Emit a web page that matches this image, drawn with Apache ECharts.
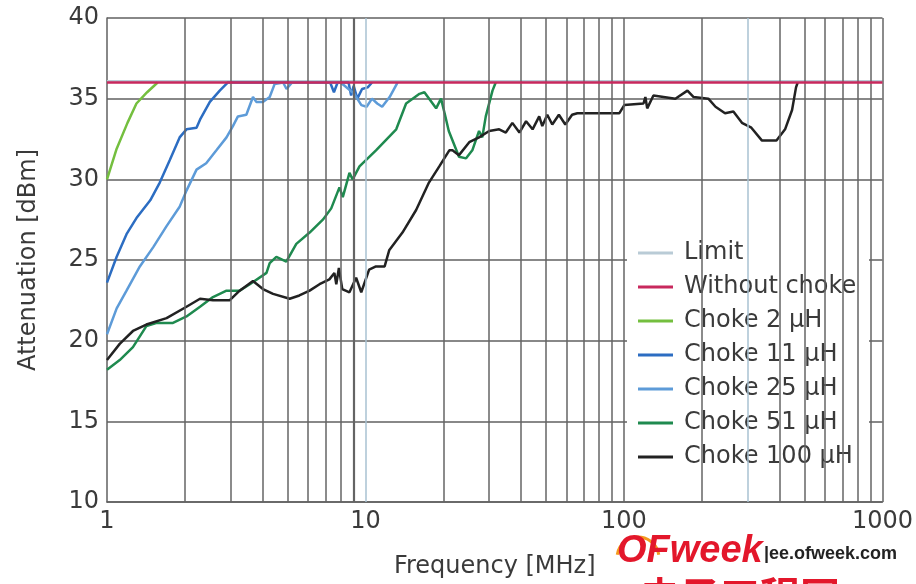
<!DOCTYPE html>
<html>
<head>
<meta charset="utf-8">
<script src="https://cdn.jsdelivr.net/npm/echarts@6/dist/echarts.min.js"></script>
<style>
  html, body { margin: 0; padding: 0; background: #fff; }
  #chart { width: 916px; height: 584px; }
</style>
</head>
<body>
<div id="chart"></div>
<script>
// frequency [MHz] / attenuation [dBm]
const limitFreq = [1, 1000];
const limitVal = [36.1, 36.1];

const noChokeFreq = [1, 1000];
const noChokeVal = [36, 36];

const choke2Freq = [1, 1.09, 1.2, 1.3, 1.43, 1.57];
const choke2Val = [30.0, 31.9, 33.5, 34.7, 35.4, 36.0];

const choke11Freq = [1, 1.09, 1.19, 1.3, 1.47, 1.6, 1.75, 1.91, 2.03, 2.22, 2.29, 2.5, 2.73, 2.93,
  7.3, 7.55, 7.8, 8.6, 8.8, 9.0, 9.3, 9.7, 10.2, 10.6];
const choke11Val = [23.6, 25.2, 26.6, 27.6, 28.7, 29.8, 31.2, 32.6, 33.1, 33.2, 33.7, 34.8, 35.5, 36.0,
  36.0, 35.4, 36.0, 36.0, 35.2, 35.8, 35.0, 35.6, 35.7, 36.0];

const choke25Freq = [1, 1.09, 1.19, 1.34, 1.51, 1.7, 1.91, 2.03, 2.22, 2.42, 2.65, 2.9, 3.07, 3.21, 3.46,
  3.67, 3.78, 4.01, 4.26, 4.45, 4.8, 4.95, 5.2, 8.0, 8.3, 9.05, 9.64, 10.1, 10.6, 11.1, 11.6, 12.4, 13.3];
const choke25Val = [20.4, 22.0, 23.1, 24.6, 25.8, 27.1, 28.3, 29.3, 30.6, 31.0, 31.8, 32.6, 33.3, 33.9, 34.0,
  35.1, 34.8, 34.8, 35.1, 35.9, 36.0, 35.6, 36.0, 36.0, 35.8, 35.3, 34.6, 34.5, 35.0, 34.7, 34.5, 35.1, 36.0];

const choke51Freq = [1, 1.12, 1.26, 1.42, 1.56, 1.8, 2.03, 2.29, 2.57, 2.9, 3.26, 3.57, 4.14, 4.26, 4.52,
  4.94, 5.4, 6.08, 6.84, 7.37, 7.93, 8.17, 8.67, 8.92, 9.48, 10.98, 13.15, 14.36, 16.18, 16.9, 18.76,
  19.6, 20.3, 21.0, 23.0, 24.5, 25.9, 27.5, 28.3, 29.2, 31.0, 31.9];
const choke51Val = [18.2, 18.8, 19.6, 20.9, 21.1, 21.1, 21.5, 22.1, 22.7, 23.1, 23.1, 23.5, 24.2, 24.8, 25.2,
  24.9, 26.0, 26.7, 27.5, 28.2, 29.5, 28.9, 30.4, 30.0, 30.8, 31.8, 33.1, 34.7, 35.3, 35.4, 34.4,
  35.0, 34.0, 33.0, 31.4, 31.3, 31.8, 33.0, 32.6, 33.9, 35.5, 36.0];

const choke100Freq = [1, 1.12, 1.26, 1.42, 1.7, 2.03, 2.29, 2.57, 2.98, 3.26, 3.67, 4.01, 4.39, 5.09, 5.55,
  6.08, 6.64, 7.25, 7.58, 7.71, 7.89, 8.13, 8.67, 9.2, 9.63, 10.33, 10.98, 11.86, 12.35, 13.9, 15.7,
  17.6, 19.3, 21.1, 21.7, 23.0, 25.2, 27.5, 30.1, 32.9, 34.9, 37.0, 39.4, 41.8, 44.3, 47.0, 48.3, 50.5,
  52.8, 56.0, 59.3, 63.0, 66.0, 96.0, 100.3, 119, 121, 123, 130, 158, 176, 186, 212, 226, 246, 265, 286,
  311, 342, 389, 420, 447, 463, 470];
const choke100Val = [18.8, 19.8, 20.6, 21.0, 21.4, 22.1, 22.6, 22.5, 22.5, 23.1, 23.7, 23.2, 22.9, 22.6, 22.8,
  23.1, 23.5, 23.8, 24.2, 23.5, 24.5, 23.2, 23.0, 23.9, 23.0, 24.4, 24.6, 24.6, 25.6, 26.7, 28.1,
  29.8, 30.8, 31.8, 31.8, 31.5, 32.3, 32.6, 33.0, 33.1, 32.9, 33.5, 32.9, 33.6, 33.1, 33.9, 33.3, 34.0,
  33.4, 34.0, 33.4, 34.0, 34.1, 34.1, 34.6, 34.7, 35.1, 34.4, 35.2, 35.0, 35.5, 35.1, 35.0, 34.5, 34.1,
  34.2, 33.5, 33.2, 32.4, 32.4, 33.1, 34.3, 35.7, 36.0];

// vertical grid lines of the log axis
const gridFreqs = [2, 3, 4, 5, 6, 7, 8, 9, 10, 20, 30, 40, 50, 60, 70, 80, 90,
  100, 200, 300, 400, 500, 600, 700, 800, 900, 1000];

const seriesNames = ['Limit', 'Without choke', 'Choke 2 μH', 'Choke 11 μH',
  'Choke 25 μH', 'Choke 51 μH', 'Choke 100 μH'];

const FONT = 'DejaVu Sans';
const TEXT = '#3a3a3a';

function zip(xs, ys) {
  return xs.map((x, i) => [x, ys[i]]);
}

function lineSeries(name, xs, ys, color, width, z) {
  return {
    name: name,
    type: 'line',
    data: zip(xs, ys),
    showSymbol: false,
    symbol: 'none',
    smooth: false,
    z: z,
    lineStyle: { color: color, width: width },
    itemStyle: { color: color }
  };
}

const chart = echarts.init(document.getElementById('chart'));

chart.setOption({
  animation: false,
  backgroundColor: '#fff',
  grid: { left: 107, right: 32, top: 18, bottom: 82 },
  xAxis: {
    type: 'log',
    logBase: 10,
    min: 1,
    max: 1000,
    name: 'Frequency [MHz]',
    nameLocation: 'middle',
    nameGap: 53,
    nameTextStyle: { fontFamily: FONT, fontSize: 24, color: TEXT },
    axisLine: { show: true, lineStyle: { color: '#606060', width: 1.5 } },
    axisTick: { show: false },
    axisLabel: {
      fontFamily: FONT, fontSize: 24, color: TEXT, margin: 8,
      formatter: v => String(v)
    },
    splitLine: { show: false }
  },
  yAxis: {
    type: 'value',
    min: 10,
    max: 40,
    interval: 5,
    name: 'Attenuation [dBm]',
    nameLocation: 'middle',
    nameGap: 66,
    nameTextStyle: { fontFamily: FONT, fontSize: 24, color: TEXT },
    axisLine: { show: true, lineStyle: { color: '#606060', width: 1.5 } },
    axisTick: { show: false },
    axisLabel: { fontFamily: FONT, fontSize: 24, color: TEXT, margin: 8 },
    splitLine: { show: true, lineStyle: { color: '#606060', width: 1.5 } }
  },
  legend: {
    data: seriesNames,
    orient: 'vertical',
    left: 627,
    top: 228,
    padding: [13, 11, 13, 11],
    itemGap: 10,
    itemWidth: 35,
    itemHeight: 3,
    icon: 'rect',
    selectedMode: false,
    formatter: name => '{g|}' + name,
    textStyle: {
      fontFamily: FONT, fontSize: 24, color: TEXT,
      rich: { g: { width: 6 } }
    }
  },
  series: [
    {
      name: 'grid',
      type: 'line',
      data: [],
      silent: true,
      z: 1,
      markLine: {
        silent: true,
        symbol: 'none',
        label: { show: false },
        animation: false,
        data: gridFreqs.map(f => ({
          xAxis: f,
          lineStyle: {
            type: 'solid',
            color: (f === 10 || f === 300) ? '#a9c2d2' : '#646464',
            width: f === 9 ? 2.2 : 1.5
          }
        }))
      }
    },
    lineSeries('Limit', limitFreq, limitVal, '#b9cbd6', 2, 3),
    lineSeries('Choke 2 μH', choke2Freq, choke2Val, '#74bf3f', 2.5, 4),
    lineSeries('Choke 11 μH', choke11Freq, choke11Val, '#2c6dc2', 2.5, 4),
    lineSeries('Choke 25 μH', choke25Freq, choke25Val, '#5d9bd8', 2.5, 4),
    lineSeries('Choke 51 μH', choke51Freq, choke51Val, '#1f8a4f', 2.5, 4),
    lineSeries('Choke 100 μH', choke100Freq, choke100Val, '#222222', 2.5, 4),
    lineSeries('Without choke', noChokeFreq, noChokeVal, '#c8285d', 2.5, 5)
  ],
  graphic: [
    {
      // white panel behind the legend, hiding the grid lines
      type: 'rect',
      shape: { x: 627, y: 228, width: 242, height: 253 },
      style: { fill: '#fff' },
      z: 2
    },
    {
      type: 'arc',
      shape: { cx: 638, cy: 558, r: 21, startAngle: Math.PI * 1.05, endAngle: Math.PI * 1.95 },
      style: { stroke: '#f39a1e', lineWidth: 3, fill: null },
      z: 10
    },
    {
      type: 'text',
      left: 617,
      top: 533,
      style: {
        text: 'OFweek',
        fontFamily: 'Liberation Sans',
        fontWeight: 'bold',
        fontStyle: 'italic',
        fontSize: 38,
        fill: '#e3172b'
      },
      z: 10
    },
    {
      type: 'text',
      left: 764,
      top: 545,
      style: {
        text: '|ee.ofweek.com',
        fontFamily: 'Liberation Sans',
        fontWeight: 'bold',
        fontSize: 18,
        fill: '#222'
      },
      z: 10
    },
    {
      type: 'text',
      left: 640,
      top: 576,
      style: {
        text: '电子工程网',
        fontFamily: 'Noto Sans CJK SC',
        fontWeight: 'bold',
        fontSize: 40,
        fill: '#e3172b'
      },
      z: 10
    }
  ]
});
</script>
</body>
</html>
